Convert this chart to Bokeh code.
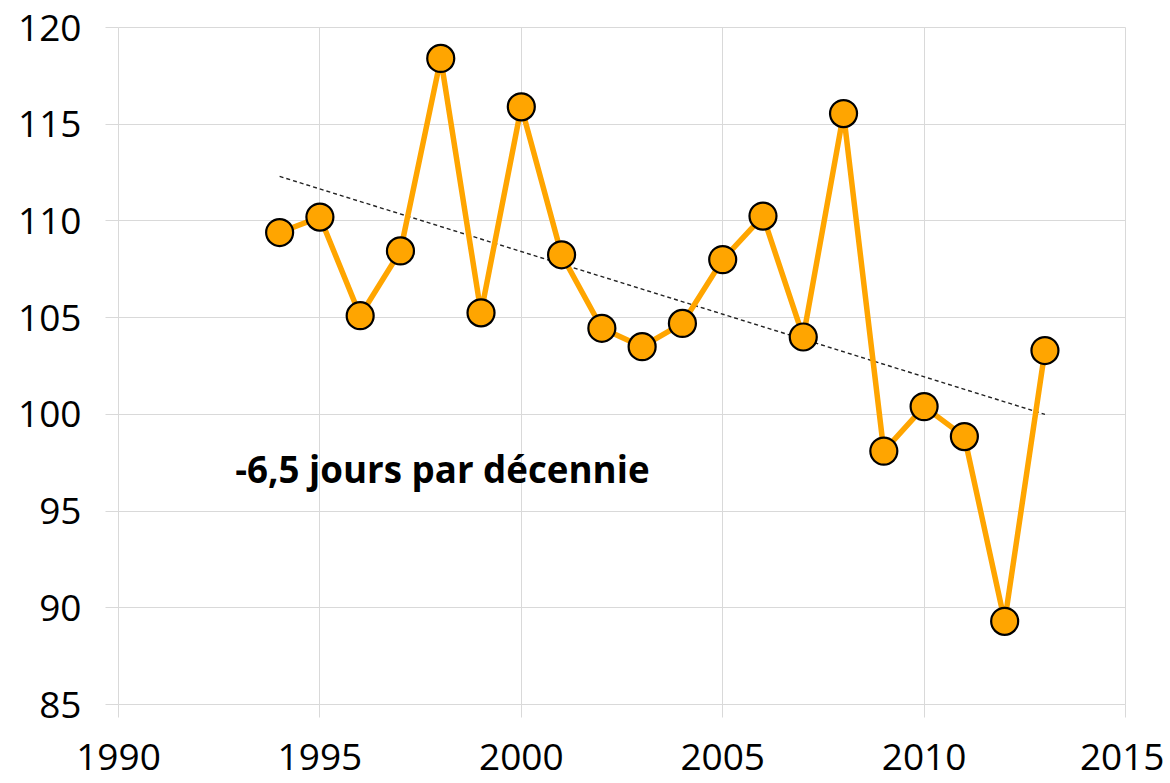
from bokeh.plotting import figure
from bokeh.models import FixedTicker, Range1d
from bokeh.core.properties import value
from bokeh.embed import file_html
from bokeh.resources import INLINE

years = [1994, 1995, 1996, 1997, 1998, 1999, 2000, 2001, 2002, 2003,
         2004, 2005, 2006, 2007, 2008, 2009, 2010, 2011, 2012, 2013]
days = [109.4, 110.2, 105.1, 108.45, 118.4, 105.25, 115.9, 108.25, 104.45, 103.5,
        104.7, 108.0, 110.25, 104.0, 115.55, 98.1, 100.4, 98.85, 89.3, 103.3]
trend_x = [1994, 2013]
trend_y = [112.3, 100.0]
x_ticks = [1990, 1995, 2000, 2005, 2010, 2015]
y_ticks = [85, 90, 95, 100, 105, 110, 115, 120]
annotation = "-6,5 jours par décennie"

FONT = "Open Sans"
GRID = "#d9d9d9"

p = figure(width=1164, height=781, output_backend="svg", toolbar_location=None,
           x_range=Range1d(1990, 2015), y_range=Range1d(85, 120),
           min_border_left=118, min_border_right=39, min_border_top=27, min_border_bottom=77)
p.outline_line_color = GRID
p.outline_line_width = 1
p.background_fill_color = "white"
p.border_fill_color = "white"

for ax in (p.xaxis[0], p.yaxis[0]):
    ax.axis_line_color = None
    ax.major_tick_line_color = GRID
    ax.major_tick_in = 0
    ax.major_tick_out = 13
    ax.minor_tick_line_color = None
    ax.major_label_text_font = FONT
    ax.major_label_text_font_size = "37px"
    ax.major_label_text_color = "black"

p.xaxis.ticker = FixedTicker(ticks=x_ticks)
p.yaxis.ticker = FixedTicker(ticks=y_ticks)
p.xaxis.major_label_standoff = 26
p.yaxis.major_label_standoff = 24

p.xgrid.ticker = FixedTicker(ticks=x_ticks)
p.ygrid.ticker = FixedTicker(ticks=y_ticks)
p.xgrid.grid_line_color = GRID
p.ygrid.grid_line_color = GRID
p.xgrid.grid_line_width = 1
p.ygrid.grid_line_width = 1

p.line(trend_x, trend_y, line_color="#222222", line_width=1.4, line_dash="4 3")
p.line(years, days, line_color="#FFA500", line_width=5.5)
p.scatter(years, days, size=27, fill_color="#FFA500", line_color="black", line_width=2.2)

p.text(x=[1992.9], y=[97.15], text=[annotation], text_font=value(FONT),
       text_font_style="bold", text_font_size="36.7px", text_color="black",
       text_baseline="alphabetic", text_align="left")

open("out.html", "w").write(file_html(p, INLINE))
